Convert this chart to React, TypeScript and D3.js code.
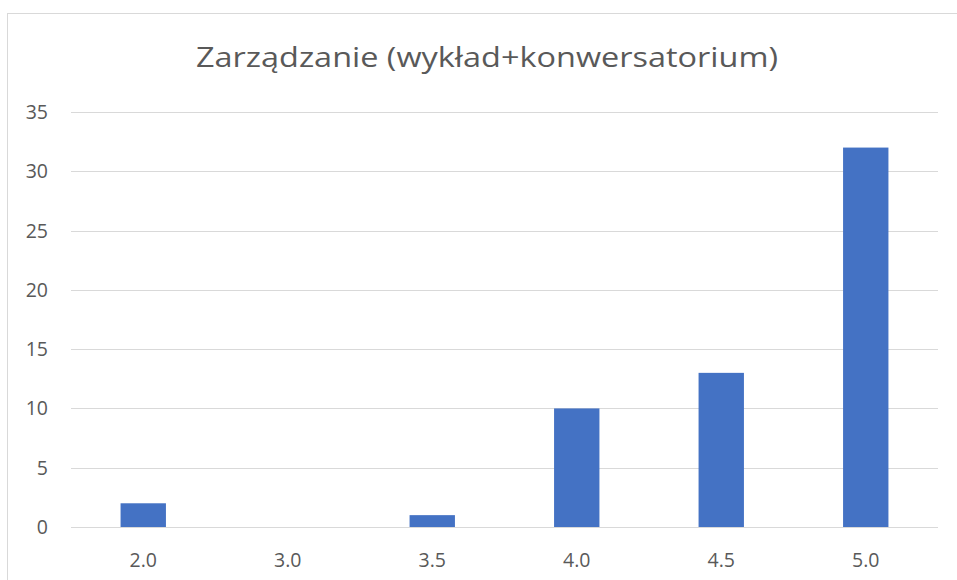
import React from "react";
import * as d3 from "d3";

const categories = ["2.0", "3.0", "3.5", "4.0", "4.5", "5.0"];
const values = [2, 0, 1, 10, 13, 32];
const yTicks = [0, 5, 10, 15, 20, 25, 30, 35];
const title = "Zarządzanie (wykład+konwersatorium)";

const W = 957;
const H = 580;
const plot = { left: 71, right: 938, top: 112, bottom: 527 };
const font = "'Open Sans', 'DejaVu Sans', sans-serif";

export default function App() {
  const x = d3
    .scaleBand<string>()
    .domain(categories)
    .range([plot.left, plot.right])
    .paddingInner(0.686)
    .paddingOuter(0.343);
  const y = d3.scaleLinear().domain([0, 35]).range([plot.bottom, plot.top]);

  return (
    <svg
      width={W}
      height={H}
      style={{ position: "absolute", left: 0, top: 0, background: "#fff" }}
    >
      <rect x={7.5} y={13.5} width={W + 10} height={H + 10} fill="#fff" stroke="#D9D9D9" strokeWidth={1} />
      <text
        x={487}
        y={67}
        textAnchor="middle"
        fontFamily={font}
        fontSize={27}
        fill="#595959"
        textLength={582}
        lengthAdjust="spacingAndGlyphs"
      >
        {title}
      </text>
      {yTicks.map((t) => (
        <g key={t}>
          <line
            x1={plot.left}
            x2={plot.right}
            y1={Math.round(y(t)) + 0.5}
            y2={Math.round(y(t)) + 0.5}
            stroke="#D9D9D9"
            strokeWidth={1}
          />
          <text
            x={48}
            y={y(t)}
            dy="0.36em"
            textAnchor="end"
            fontFamily={font}
            fontSize={19.5}
            fill="#595959"
          >
            {t}
          </text>
        </g>
      ))}
      {categories.map((c, i) => (
        <g key={c}>
          <rect
            x={x(c)!}
            y={y(values[i])}
            width={x.bandwidth()}
            height={y(0) - y(values[i])}
            fill="#4472C4"
          />
          <text
            x={x(c)! + x.bandwidth() / 2}
            y={567}
            textAnchor="middle"
            fontFamily={font}
            fontSize={19.5}
            fill="#595959"
          >
            {c}
          </text>
        </g>
      ))}
    </svg>
  );
}
